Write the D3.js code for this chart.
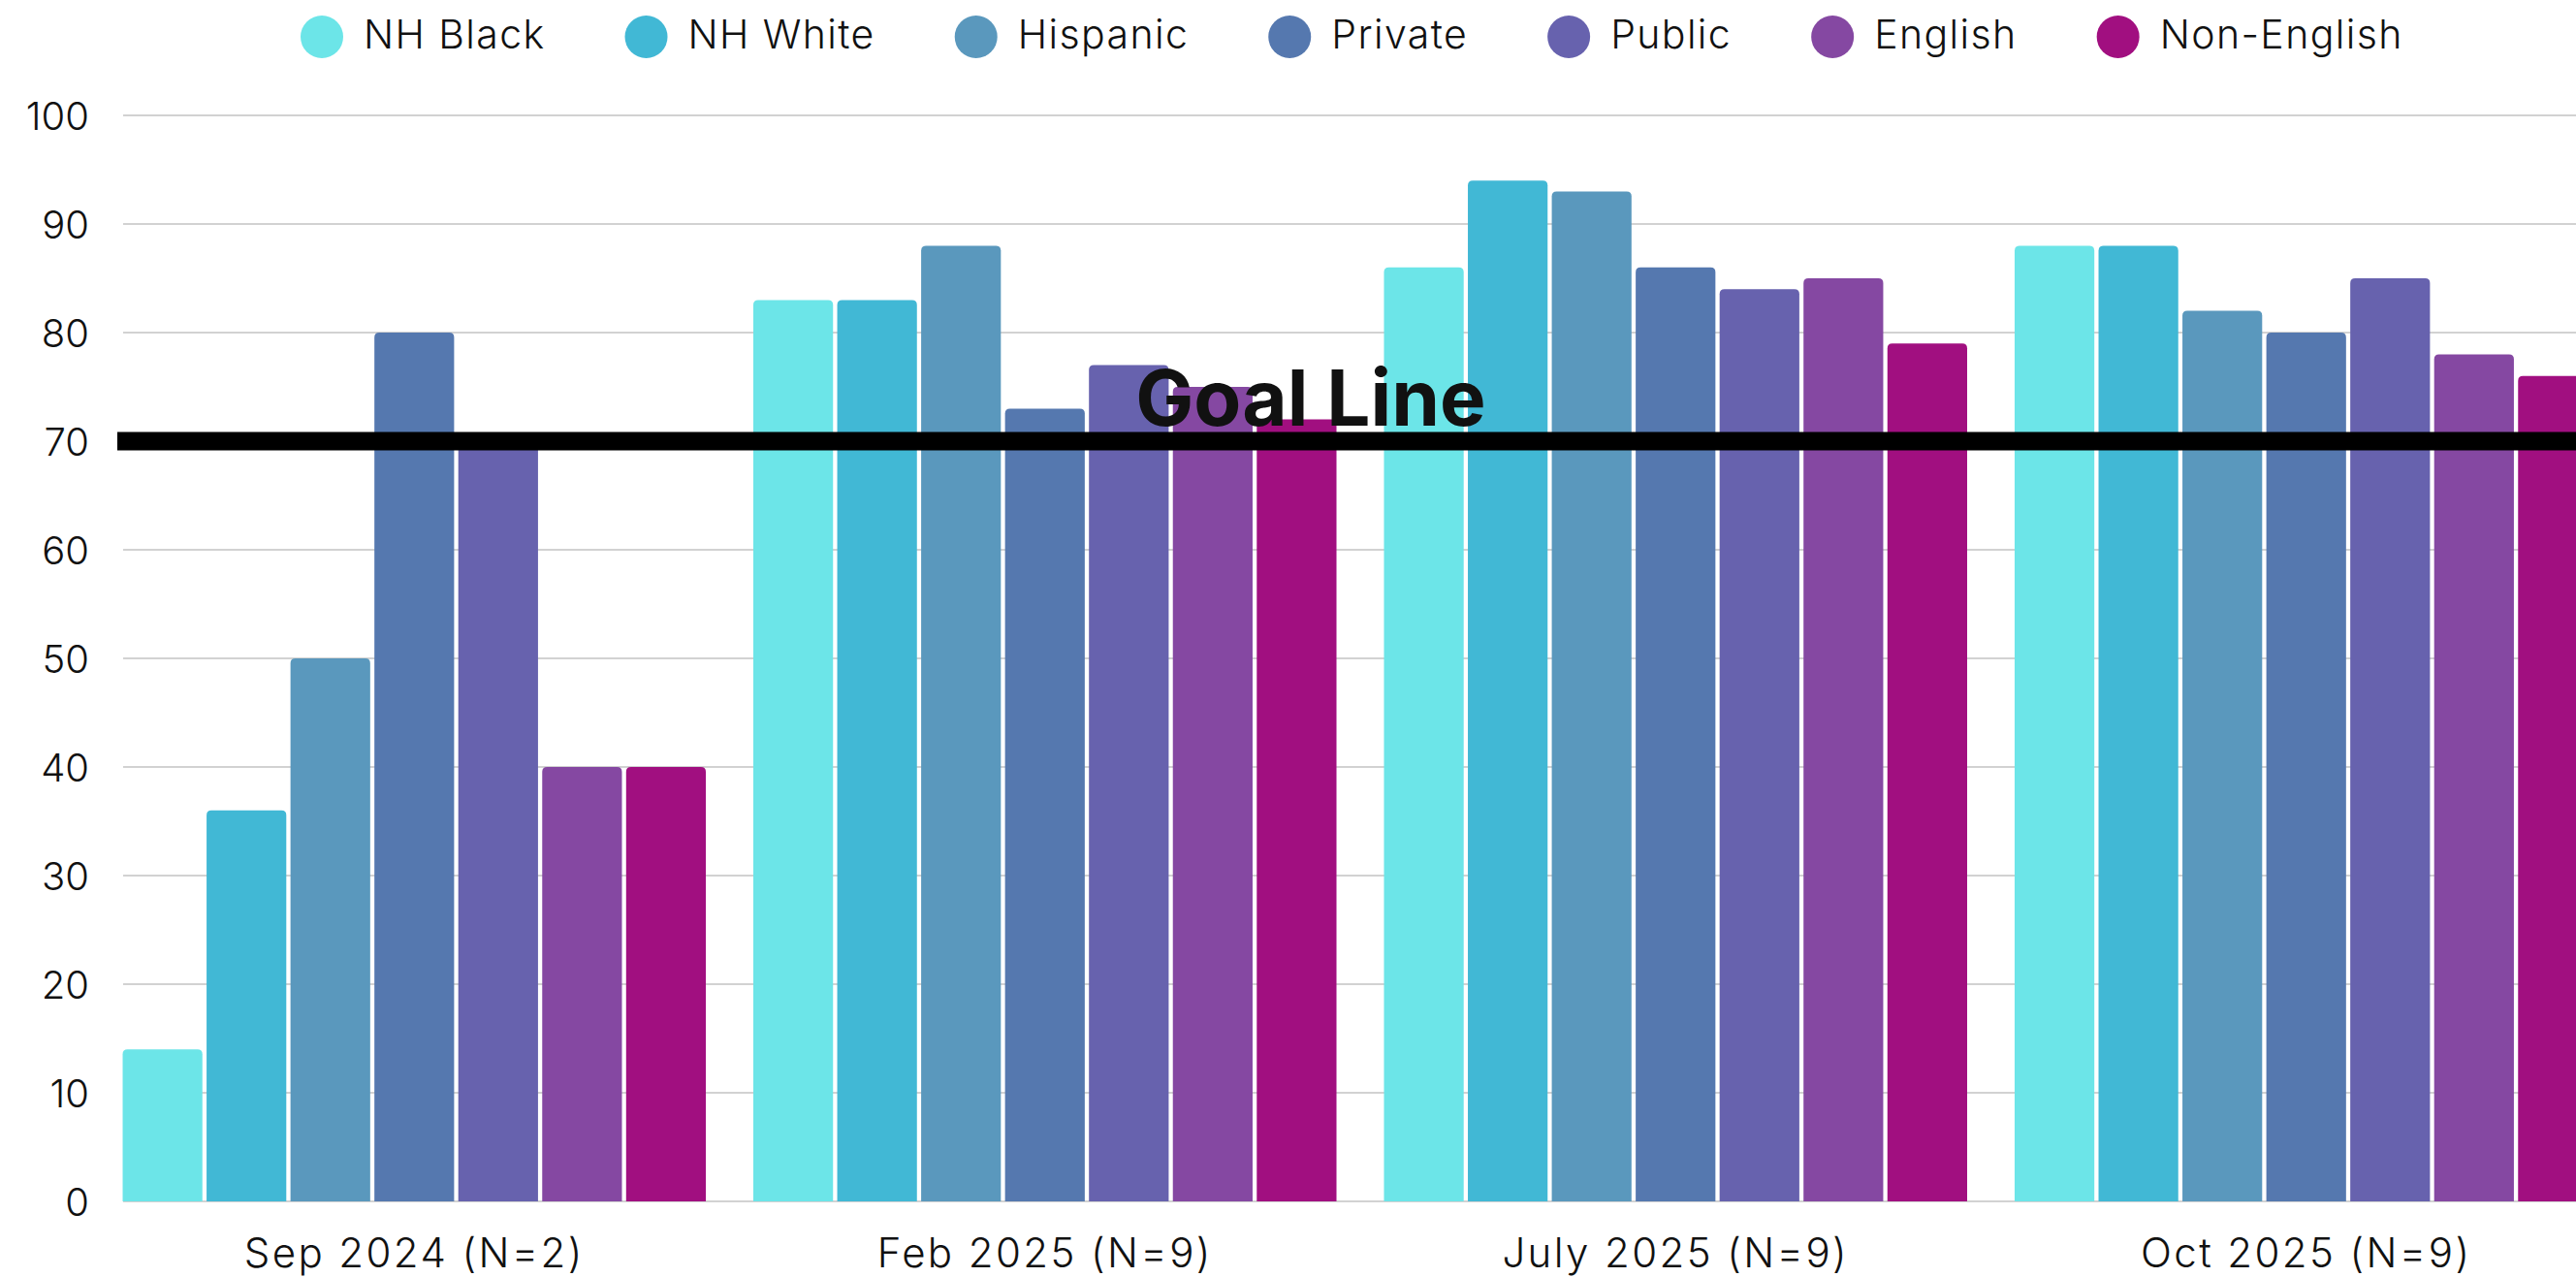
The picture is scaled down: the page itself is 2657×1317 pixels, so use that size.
<!DOCTYPE html>
<html>
<head>
<meta charset="utf-8">
<script src="https://cdn.jsdelivr.net/npm/d3@7/dist/d3.min.js"></script>
<style>
  html, body { margin: 0; padding: 0; background: #ffffff; }
  svg { display: block; }
  text { font-family: Inter, "Noto Sans", sans-serif; fill: #111; }
</style>
</head>
<body>
<svg id="chart" width="2657" height="1317"></svg>
<script>
// Survey waves shown along the x axis
const waves = ["Sep 2024 (N=2)", "Feb 2025 (N=9)", "July 2025 (N=9)", "Oct 2025 (N=9)"];
// Subgroups, one bar each per wave
const groups = ["NH Black", "NH White", "Hispanic", "Private", "Public", "English", "Non-English"];
const groupColors = ["#6ce5e8", "#41b8d5", "#5a98bd", "#5578af", "#6762ae", "#8548a2", "#a10f80"];
// Percent values per subgroup, in wave order
const nhBlack    = [14, 83, 86, 88];
const nhWhite    = [36, 83, 94, 88];
const hispanic   = [50, 88, 93, 82];
const privateSch = [80, 73, 86, 80];
const publicSch  = [70, 77, 84, 85];
const english    = [40, 75, 85, 78];
const nonEnglish = [40, 72, 79, 76];
const yTicks = [0, 10, 20, 30, 40, 50, 60, 70, 80, 90, 100];
const goalValue = 70;
const goalLabel = "Goal Line";

const seriesValues = [nhBlack, nhWhite, hispanic, privateSch, publicSch, english, nonEnglish];
const rows = [];
waves.forEach((w, wi) => {
  groups.forEach((g, gi) => rows.push({ wave: w, group: g, value: seriesValues[gi][wi] }));
});

const W = 2657, H = 1317;
const svg = d3.select("#chart");

// Plot frame (the rightmost wave runs slightly past the right edge)
const plotLeft = 102, plotRight = 2704;
const yBottom = 1239, yTop = 119;

const x0 = d3.scaleBand().domain(waves).range([plotLeft, plotRight])
  .paddingInner(0.0753).paddingOuter(0.0377);
const x1 = d3.scaleBand().domain(groups).range([0, x0.bandwidth()])
  .paddingInner(0.05).paddingOuter(0);
const y = d3.scaleLinear().domain([0, 100]).range([yBottom, yTop]);
const color = d3.scaleOrdinal().domain(groups).range(groupColors);

// Horizontal gridlines
svg.append("g").selectAll("line").data(yTicks).join("line")
  .attr("x1", 127).attr("x2", W)
  .attr("y1", d => y(d)).attr("y2", d => y(d))
  .attr("stroke", "#d2d2d2").attr("stroke-width", 2);

// Y axis labels
const yAxis = d3.axisLeft(y).tickValues(yTicks).tickSize(0).tickPadding(0);
const yg = svg.append("g").attr("transform", "translate(92,0)").call(yAxis);
yg.select(".domain").remove();
yg.selectAll("text")
  .attr("font-family", "Inter, sans-serif")
  .attr("font-size", 40).attr("font-weight", 300)
  .attr("fill", "#111").attr("dy", "0.36em");

// Bars with slightly rounded top corners
function topRounded(x, yy, w, h, r) {
  r = Math.min(r, h, w / 2);
  return `M${x},${yy + h}V${yy + r}Q${x},${yy} ${x + r},${yy}H${x + w - r}Q${x + w},${yy} ${x + w},${yy + r}V${yy + h}Z`;
}
svg.append("g").selectAll("path").data(rows).join("path")
  .attr("d", d => {
    const bx = x0(d.wave) + x1(d.group);
    return topRounded(bx, y(d.value), x1.bandwidth(), y(0) - y(d.value), 5);
  })
  .attr("fill", d => color(d.group));

// X axis labels
const xAxis = d3.axisBottom(x0).tickSize(0).tickPadding(0);
const xg = svg.append("g").attr("transform", `translate(0,1307)`).call(xAxis);
xg.select(".domain").remove();
xg.selectAll("text")
  .attr("font-family", "Inter, sans-serif")
  .attr("font-size", 42).attr("font-weight", 300)
  .attr("letter-spacing", 2.4)
  .attr("fill", "#111").attr("dy", 0).attr("y", 0);

// Goal line and its label
svg.append("line")
  .attr("x1", 121).attr("x2", W)
  .attr("y1", y(goalValue)).attr("y2", y(goalValue))
  .attr("stroke", "#000").attr("stroke-width", 19);
svg.append("text")
  .attr("x", 1352).attr("y", y(goalValue) - 16)
  .attr("text-anchor", "middle")
  .attr("font-family", "Inter, sans-serif")
  .attr("font-size", 80).attr("font-weight", 700)
  .attr("fill", "#000")
  .text(goalLabel);

// Legend across the top
const legend = svg.append("g");
let lx = 310;
const r = 22, ly = 38;
groups.forEach((g, i) => {
  const item = legend.append("g");
  item.append("circle").attr("cx", lx + r).attr("cy", ly).attr("r", r).attr("fill", groupColors[i]);
  const t = item.append("text")
    .attr("x", lx + r + 43).attr("y", 50)
    .attr("font-family", "Inter, sans-serif")
    .attr("font-size", 41).attr("font-weight", 300)
    .attr("letter-spacing", 1.4)
    .attr("fill", "#111")
    .text(g);
  const tw = t.node().getComputedTextLength();
  lx = lx + r + 43 + tw + 104 - r;
});
</script>
</body>
</html>
